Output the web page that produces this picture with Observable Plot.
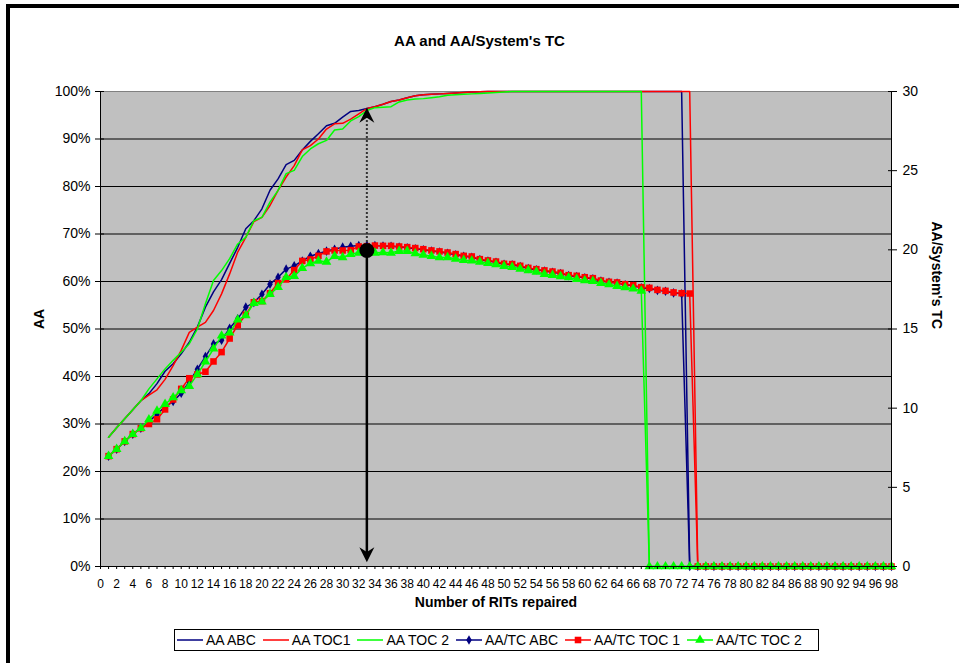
<!DOCTYPE html>
<html>
<head>
<meta charset="utf-8">
<script src="https://cdn.jsdelivr.net/npm/d3@7"></script>
<script src="https://cdn.jsdelivr.net/npm/@observablehq/plot@0.6"></script>
<style>
  html, body { margin: 0; padding: 0; background: #fff; }
  #page {
    position: relative; width: 959px; height: 663px; overflow: hidden;
    font-family: "Liberation Sans", Arial, sans-serif; color: #000;
  }
  #edge {
    position: absolute; left: 6px; top: 4px; width: 1000px; height: 700px;
    border-left: 4px solid #000; border-top: 4px solid #000;
  }
  #chart { position: absolute; left: 0; top: 0; }
  #title {
    position: absolute; left: 0; top: 32px; width: 959px; text-align: center;
    font-size: 15px; font-weight: bold; line-height: 18px;
  }
  #legend {
    position: absolute; left: 174px; top: 629px; width: 641px; height: 20px;
    border: 1px solid #000; background: #fff;
    display: flex; align-items: center; padding-left: 2px; box-sizing: content-box;
    font-size: 14px; white-space: nowrap;
  }
  #legend .item { display: flex; align-items: center; margin-right: 7px; }
  #legend svg { margin-right: 3px; }
</style>
</head>
<body>
<div id="page">
  <div id="edge"></div>
  <div id="chart"></div>
  <div id="title">AA and AA/System's TC</div>
  <div id="legend"></div>
</div>
<script>
// Number of RITs repaired (x positions of every series)
const rits = d3.range(1, 99);

// AA (percent, left axis)
const aaABC = [
  27.2, 29.2, 31.1, 33.0, 34.9, 36.4, 38.5, 41.1, 42.7, 44.8,
  47.2, 50.4, 54.6, 57.8, 60.4, 63.8, 67.2, 71.1, 72.8, 75.3,
  79.2, 81.6, 84.6, 85.5, 87.7, 89.5, 91.1, 92.8, 93.3, 94.6,
  95.8, 96.0, 96.4, 96.8, 97.3, 97.9, 98.2, 98.7, 99.1, 99.3,
  99.4, 99.5, 99.6, 99.7, 99.8, 99.9, 99.95, 100, 100, 100,
  100, 100, 100, 100, 100, 100, 100, 100, 100, 100,
  100, 100, 100, 100, 100, 100, 100, 100, 100, 100,
  100, 100, 0, 0, 0, 0, 0, 0, 0, 0,
  0, 0, 0, 0, 0, 0, 0, 0, 0, 0,
  0, 0, 0, 0, 0, 0, 0, 0
];
const aaTOC1 = [
  27.2, 29.2, 31.1, 33.0, 34.9, 36.1, 37.2, 39.4, 42.3, 45.5,
  49.3, 50.4, 51.4, 53.9, 57.4, 61.6, 66.2, 69.3, 72.6, 73.5,
  76.0, 79.2, 82.0, 84.4, 87.7, 88.6, 90.0, 92.1, 93.2, 93.3,
  94.2, 95.3, 96.4, 96.8, 97.3, 97.9, 98.2, 98.7, 99.1, 99.3,
  99.4, 99.5, 99.6, 99.7, 99.8, 99.9, 99.95, 100, 100, 100,
  100, 100, 100, 100, 100, 100, 100, 100, 100, 100,
  100, 100, 100, 100, 100, 100, 100, 100, 100, 100,
  100, 100, 100, 0, 0, 0, 0, 0, 0, 0,
  0, 0, 0, 0, 0, 0, 0, 0, 0, 0,
  0, 0, 0, 0, 0, 0, 0, 0
];
const aaTOC2 = [
  27.2, 29.2, 31.1, 33.0, 34.9, 37.4, 39.5, 41.6, 43.4, 45.1,
  46.9, 50.0, 55.3, 60.2, 62.3, 64.8, 67.9, 69.3, 72.8, 73.5,
  76.7, 79.2, 82.7, 83.4, 86.3, 87.9, 89.0, 89.7, 91.9, 92.1,
  93.8, 94.7, 96.0, 96.6, 96.7, 96.8, 97.8, 98.2, 98.4, 98.5,
  98.7, 98.9, 99.2, 99.3, 99.4, 99.5, 99.6, 99.7, 99.8, 99.9,
  100, 100, 100, 100, 100, 100, 100, 100, 100, 100,
  100, 100, 100, 100, 100, 100, 100, 0, 0, 0,
  0, 0, 0, 0, 0, 0, 0, 0, 0, 0,
  0, 0, 0, 0, 0, 0, 0, 0, 0, 0,
  0, 0, 0, 0, 0, 0, 0, 0
];

// AA / System's TC (right axis, 0-30)
const tcABC = [
  6.97, 7.41, 7.9, 8.36, 8.73, 9.15, 9.62, 10.1, 10.42, 10.95,
  11.68, 12.46, 13.26, 14.06, 14.29, 15.05, 15.64, 16.38, 16.67, 17.2,
  17.83, 18.27, 18.78, 18.99, 19.3, 19.6, 19.77, 19.92, 20.04, 20.17,
  20.23, 20.27, 20.28, 20.27, 20.24, 20.22, 20.18, 20.13, 20.07, 20.0,
  19.93, 19.86, 19.79, 19.69, 19.59, 19.53, 19.38, 19.3, 19.22, 19.09,
  19.06, 18.95, 18.82, 18.74, 18.66, 18.59, 18.51, 18.37, 18.32, 18.23,
  18.17, 18.03, 17.95, 17.9, 17.8, 17.73, 17.61, 17.56, 17.44, 17.38,
  17.28, 17.22, 0, 0, 0, 0, 0, 0, 0, 0,
  0, 0, 0, 0, 0, 0, 0, 0, 0, 0,
  0, 0, 0, 0, 0, 0, 0, 0
];
const tcTOC1 = [
  6.97, 7.41, 7.9, 8.36, 8.73, 9.0, 9.3, 9.92, 10.55, 11.22,
  11.89, 12.13, 12.3, 12.95, 13.54, 14.4, 15.24, 15.9, 16.69, 16.76,
  17.26, 17.9, 18.13, 18.72, 19.3, 19.39, 19.62, 19.9, 19.96, 19.96,
  19.98, 20.21, 20.23, 20.27, 20.25, 20.25, 20.21, 20.17, 20.11, 20.04,
  19.96, 19.9, 19.83, 19.73, 19.62, 19.58, 19.41, 19.33, 19.26, 19.12,
  19.1, 18.99, 18.86, 18.78, 18.7, 18.63, 18.55, 18.4, 18.36, 18.27,
  18.21, 18.06, 17.98, 17.94, 17.83, 17.77, 17.64, 17.6, 17.47, 17.41,
  17.31, 17.26, 17.24, 0, 0, 0, 0, 0, 0, 0,
  0, 0, 0, 0, 0, 0, 0, 0, 0, 0,
  0, 0, 0, 0, 0, 0, 0, 0
];
const tcTOC2 = [
  6.97, 7.41, 7.9, 8.36, 8.73, 9.28, 9.83, 10.25, 10.67, 11.12,
  11.39, 12.13, 12.93, 13.75, 14.57, 14.76, 15.58, 15.85, 16.63, 16.72,
  17.2, 17.64, 18.27, 18.34, 18.84, 19.14, 19.3, 19.24, 19.6, 19.52,
  19.73, 19.81, 19.85, 19.81, 19.83, 19.81, 19.92, 19.92, 19.77, 19.68,
  19.6, 19.52, 19.52, 19.43, 19.35, 19.31, 19.24, 19.16, 19.07, 18.97,
  18.91, 18.8, 18.7, 18.61, 18.46, 18.4, 18.32, 18.25, 18.15, 18.06,
  18.02, 17.9, 17.81, 17.71, 17.62, 17.54, 17.41, 0, 0, 0,
  0, 0, 0, 0, 0, 0, 0, 0, 0, 0,
  0, 0, 0, 0, 0, 0, 0, 0, 0, 0,
  0, 0, 0, 0, 0, 0, 0, 0
];

// Axis ticks
const aaTicks = [0, 10, 20, 30, 40, 50, 60, 70, 80, 90, 100];
const tcTicks = [0, 5, 10, 15, 20, 25, 30];
const tcMax = 30;
const xTicks = d3.range(0, 99);

// Peak marker: RITs repaired at the maximum AA/TC, with its AA/TC and AA readings
const peakRits = 33;
const peakTC = 19.96;
const peakAA = 96.6;
const floorAA = 0.9;

const series = [
  {name: "AA ABC", aa: aaABC, color: "#000080"},
  {name: "AA TOC1", aa: aaTOC1, color: "#ff0000"},
  {name: "AA TOC 2", aa: aaTOC2, color: "#00ff00"}
];
const tcSeries = [
  {name: "AA/TC ABC", tc: tcABC, color: "#000080", symbol: "diamond", r: 2.9},
  {name: "AA/TC TOC 1", tc: tcTOC1, color: "#ff0000", symbol: "square", r: 3.7},
  {name: "AA/TC TOC 2", tc: tcTOC2, color: "#00ff00", symbol: "triangle", r: 3.6}
];

const rows = values => values.map((v, i) => ({x: rits[i], v}));

// Filled "stealth" arrow heads, tip at the anchor point
const arrowUp = {draw(ctx, size) {
  const r = Math.sqrt(size / Math.PI);
  ctx.moveTo(0, 0); ctx.lineTo(r, 2 * r); ctx.lineTo(0, 1.35 * r); ctx.lineTo(-r, 2 * r); ctx.closePath();
}};
const arrowDown = {draw(ctx, size) {
  const r = Math.sqrt(size / Math.PI);
  ctx.moveTo(0, 0); ctx.lineTo(r, -2 * r); ctx.lineTo(0, -1.35 * r); ctx.lineTo(-r, -2 * r); ctx.closePath();
}};

const font = "Liberation Sans, Arial, sans-serif";
const marks = [
  Plot.frame({fill: "#c0c0c0"}),
  Plot.ruleY(aaTicks.slice(1, -1), {y: d => d / 100, stroke: "#000", strokeWidth: 1}),
  Plot.ruleY([1], {stroke: "#808080"})
];
for (const s of series) {
  marks.push(Plot.line(rows(s.aa), {x: "x", y: d => d.v / 100, stroke: s.color, strokeWidth: 1.5}));
}
for (const s of tcSeries) {
  marks.push(Plot.line(rows(s.tc), {x: "x", y: d => d.v / tcMax, stroke: s.color, strokeWidth: 1.5}));
  marks.push(Plot.dot(rows(s.tc), {x: "x", y: d => d.v / tcMax, symbol: s.symbol, r: s.r, fill: s.color, stroke: "none"}));
}
marks.push(
  // dotted guide up to the AA curve, solid guide down to the axis
  Plot.ruleX([{x: peakRits, y1: peakTC / tcMax, y2: peakAA / 100}], {x: "x", y1: "y1", y2: "y2", stroke: "#333", strokeWidth: 2, strokeDasharray: "2,2"}),
  Plot.ruleX([{x: peakRits, y1: peakTC / tcMax, y2: floorAA / 100 + 0.02}], {x: "x", y1: "y1", y2: "y2", stroke: "#000", strokeWidth: 2.5}),
  Plot.dot([{x: peakRits, y: peakAA / 100}], {x: "x", y: "y", symbol: arrowUp, r: 7.5, fill: "#000", stroke: "none"}),
  Plot.dot([{x: peakRits, y: floorAA / 100}], {x: "x", y: "y", symbol: arrowDown, r: 7.5, fill: "#000", stroke: "none"}),
  Plot.dot([{x: peakRits, y: peakTC / tcMax}], {x: "x", y: "y", r: 7.5, fill: "#000", stroke: "none"}),
  // axis lines
  Plot.ruleX([0], {stroke: "#000"}),
  Plot.ruleX([98], {stroke: "#000"}),
  Plot.ruleY([0], {stroke: "#000"}),
  Plot.axisX({ticks: xTicks, tickFormat: d => d % 2 === 0 ? String(d) : "", tickSize: 3, tickPadding: 10, fontSize: 12, fontFamily: font, label: null}),
  Plot.axisY({anchor: "left", ticks: aaTicks.map(d => d / 100), tickFormat: d => Math.round(d * 100) + "%", tickSize: 9, dx: 4, tickPadding: 5, fontSize: 14, fontFamily: font, label: null}),
  Plot.axisY({anchor: "right", ticks: tcTicks.map(d => d / tcMax), tickFormat: d => String(Math.round(d * tcMax)), tickSize: 9, dx: -4, tickPadding: 6, fontSize: 14, fontFamily: font, label: null}),
  Plot.text(["AA"], {frameAnchor: "left", dx: -61, rotate: -90, fontWeight: "bold", fontSize: 14, fontFamily: font}),
  Plot.text(["AA/System's TC"], {frameAnchor: "right", dx: 45, rotate: 90, fontWeight: "bold", fontSize: 14, fontFamily: font}),
  Plot.text(["Number of RITs repaired"], {frameAnchor: "bottom", dy: 40, fontWeight: "bold", fontSize: 14, fontFamily: font})
);

const chart = Plot.plot({
  width: 959,
  height: 620,
  marginTop: 91,
  marginLeft: 100,
  marginRight: 68,
  marginBottom: 54,
  style: {background: "transparent", fontFamily: font, color: "#000", overflow: "visible"},
  x: {domain: [0, 98], label: null},
  y: {domain: [0, 1], label: null},
  marks
});
document.getElementById("chart").append(chart);

// Legend
const legend = d3.select("#legend");
for (const s of series) {
  const item = legend.append("div").attr("class", "item");
  const svg = item.append("svg").attr("width", 26).attr("height", 12);
  svg.append("line").attr("x1", 0).attr("x2", 26).attr("y1", 6).attr("y2", 6).attr("stroke", s.color).attr("stroke-width", 1.5);
  item.append("span").text(s.name);
}
const symbolTypes = {diamond: d3.symbolDiamond, square: d3.symbolSquare, triangle: d3.symbolTriangle};
for (const s of tcSeries) {
  const item = legend.append("div").attr("class", "item");
  const svg = item.append("svg").attr("width", 26).attr("height", 12);
  svg.append("line").attr("x1", 0).attr("x2", 26).attr("y1", 6).attr("y2", 6).attr("stroke", s.color).attr("stroke-width", 1.5);
  svg.append("path").attr("transform", "translate(13,6)")
    .attr("d", d3.symbol(symbolTypes[s.symbol], Math.PI * s.r * s.r)()).attr("fill", s.color);
  item.append("span").text(s.name);
}
</script>
</body>
</html>
